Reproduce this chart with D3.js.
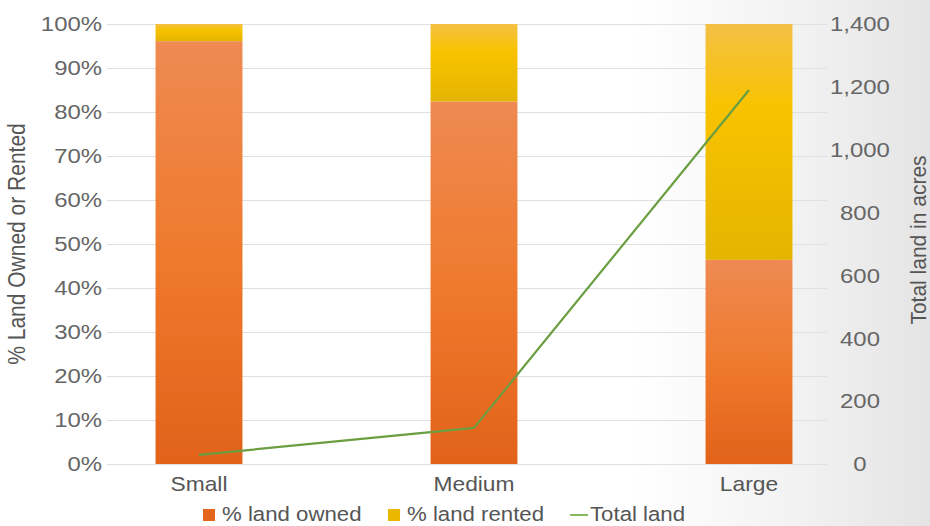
<!DOCTYPE html>
<html>
<head>
<meta charset="utf-8">
<script src="https://cdn.jsdelivr.net/npm/d3@7"></script>
<style>
  html, body { margin: 0; padding: 0; background: #fff; }
  svg { display: block; font-family: "Liberation Sans", Arial, Helvetica, sans-serif; }
</style>
</head>
<body>
<svg id="chart" width="930" height="526"></svg>
<script>
// ---- data ----
const categories = ["Small", "Medium", "Large"];
const pctOwned = [0.961, 0.824, 0.464];
const pctRented = [0.039, 0.176, 0.536];
const totalLand = [29, 115, 1190];
const leftTicks = [0, 0.1, 0.2, 0.3, 0.4, 0.5, 0.6, 0.7, 0.8, 0.9, 1.0];
const rightTicks = [0, 200, 400, 600, 800, 1000, 1200, 1400];
const seriesNames = ["% land owned", "% land rented", "Total land"];

// ---- layout ----
const W = 930, H = 526;
const SX = 1.14;               // horizontal text stretch seen in the reference
const plotL = 107, plotR = 827, plotT = 24, plotB = 464;

const svg = d3.select("#chart");
const defs = svg.append("defs");

// background
const bg = defs.append("linearGradient").attr("id", "bg").attr("x1", 0).attr("x2", 1).attr("y1", 0).attr("y2", 0);
bg.append("stop").attr("offset", "0").attr("stop-color", "#ffffff");
bg.append("stop").attr("offset", "0.68").attr("stop-color", "#ffffff");
bg.append("stop").attr("offset", "0.87").attr("stop-color", "#f1f1f1");
bg.append("stop").attr("offset", "1").attr("stop-color", "#e4e4e4");
svg.append("rect").attr("width", W).attr("height", H).attr("fill", "url(#bg)");

const gO = defs.append("linearGradient").attr("id", "gOwned").attr("x1", 0).attr("x2", 0).attr("y1", 0).attr("y2", 1);
gO.append("stop").attr("offset", "0").attr("stop-color", "#ee8a52");
gO.append("stop").attr("offset", "0.5").attr("stop-color", "#ef7a2e");
gO.append("stop").attr("offset", "1").attr("stop-color", "#e2621a");
const gR = defs.append("linearGradient").attr("id", "gRented").attr("x1", 0).attr("x2", 0).attr("y1", 0).attr("y2", 1);
gR.append("stop").attr("offset", "0").attr("stop-color", "#f4c045");
gR.append("stop").attr("offset", "0.35").attr("stop-color", "#f8c300");
gR.append("stop").attr("offset", "1").attr("stop-color", "#e4b400");

// scales
const x = d3.scaleBand().domain(categories).range([61.5, 886.5]).paddingInner(0.684).paddingOuter(0.342);
const yL = d3.scaleLinear().domain([0, 1]).range([plotB, plotT]);
const yR = d3.scaleLinear().domain([0, 1400]).range([plotB, plotT]);

const stretch = sel => sel.attr("transform", `scale(${SX},1)`);

// left axis with gridlines
const axL = svg.append("g").attr("transform", `translate(${plotL},0)`)
  .call(d3.axisLeft(yL).tickValues(leftTicks).tickFormat(d3.format(".0%")).tickSize(-(plotR - plotL)).tickPadding(5));
axL.select(".domain").remove();
axL.selectAll(".tick line").attr("stroke", "#e0e0e0").attr("stroke-width", 1);
axL.selectAll(".tick text").attr("fill", "#666").attr("font-size", 21).attr("x", -5 / SX).call(stretch);

// right axis labels
const axR = svg.append("g").attr("transform", `translate(${plotR},0)`)
  .call(d3.axisRight(yR).tickValues(rightTicks).tickFormat(d3.format(",")).tickSize(0).tickPadding(0));
axR.select(".domain").remove();
axR.selectAll(".tick text").attr("fill", "#666").attr("font-size", 21)
  .attr("text-anchor", "middle").attr("x", 33 / SX).call(stretch);

// bars
const barG = svg.append("g");
barG.selectAll("rect.owned").data(categories).join("rect").attr("class", "owned")
  .attr("x", d => x(d)).attr("width", x.bandwidth())
  .attr("y", (d, i) => yL(pctOwned[i])).attr("height", (d, i) => yL(0) - yL(pctOwned[i]))
  .attr("fill", "url(#gOwned)");
barG.selectAll("rect.rented").data(categories).join("rect").attr("class", "rented")
  .attr("x", d => x(d)).attr("width", x.bandwidth())
  .attr("y", (d, i) => yL(pctOwned[i] + pctRented[i])).attr("height", (d, i) => yL(pctOwned[i]) - yL(pctOwned[i] + pctRented[i]))
  .attr("fill", "url(#gRented)");

// category labels
svg.append("g").selectAll("text").data(categories).join("text")
  .attr("transform", d => `translate(${x(d) + x.bandwidth() / 2},491) scale(${SX},1)`)
  .attr("text-anchor", "middle").attr("font-size", 20).attr("fill", "#555").text(d => d);

// line
const line = d3.line().x((d, i) => x(categories[i]) + x.bandwidth() / 2).y(d => yR(d));
svg.append("path").datum(totalLand).attr("d", line)
  .attr("fill", "none").attr("stroke", "#6a9e40").attr("stroke-width", 2.2).attr("stroke-linejoin", "round");

// axis titles
svg.append("text").attr("transform", `translate(25,${(plotT + plotB) / 2}) scale(${SX},1) rotate(-90)`)
  .attr("text-anchor", "middle").attr("font-size", 21).attr("fill", "#555").text("% Land Owned or Rented");
svg.append("text").attr("transform", `translate(926,${(plotT + plotB) / 2 - 4}) scale(1.05,1) rotate(-90)`)
  .attr("text-anchor", "middle").attr("font-size", 21).attr("fill", "#555").text("Total land in acres");

// legend
const leg = svg.append("g");
const legItems = [
  { name: seriesNames[0], kind: "rect", color: "#e4661c", mx: 203, tx: 222 },
  { name: seriesNames[1], kind: "rect", color: "#eab800", mx: 388, tx: 407 },
  { name: seriesNames[2], kind: "line", color: "#86b960", mx: 570, tx: 590 }
];
legItems.forEach(it => {
  if (it.kind === "rect") {
    leg.append("rect").attr("x", it.mx).attr("y", 509).attr("width", 12).attr("height", 12).attr("fill", it.color);
  } else {
    leg.append("line").attr("x1", it.mx).attr("x2", it.mx + 18).attr("y1", 515).attr("y2", 515)
      .attr("stroke", it.color).attr("stroke-width", 2);
  }
  leg.append("text").attr("transform", `translate(${it.tx},521) scale(${SX},1)`)
    .attr("font-size", 19.5).attr("fill", "#555").text(it.name);
});
</script>
</body>
</html>
